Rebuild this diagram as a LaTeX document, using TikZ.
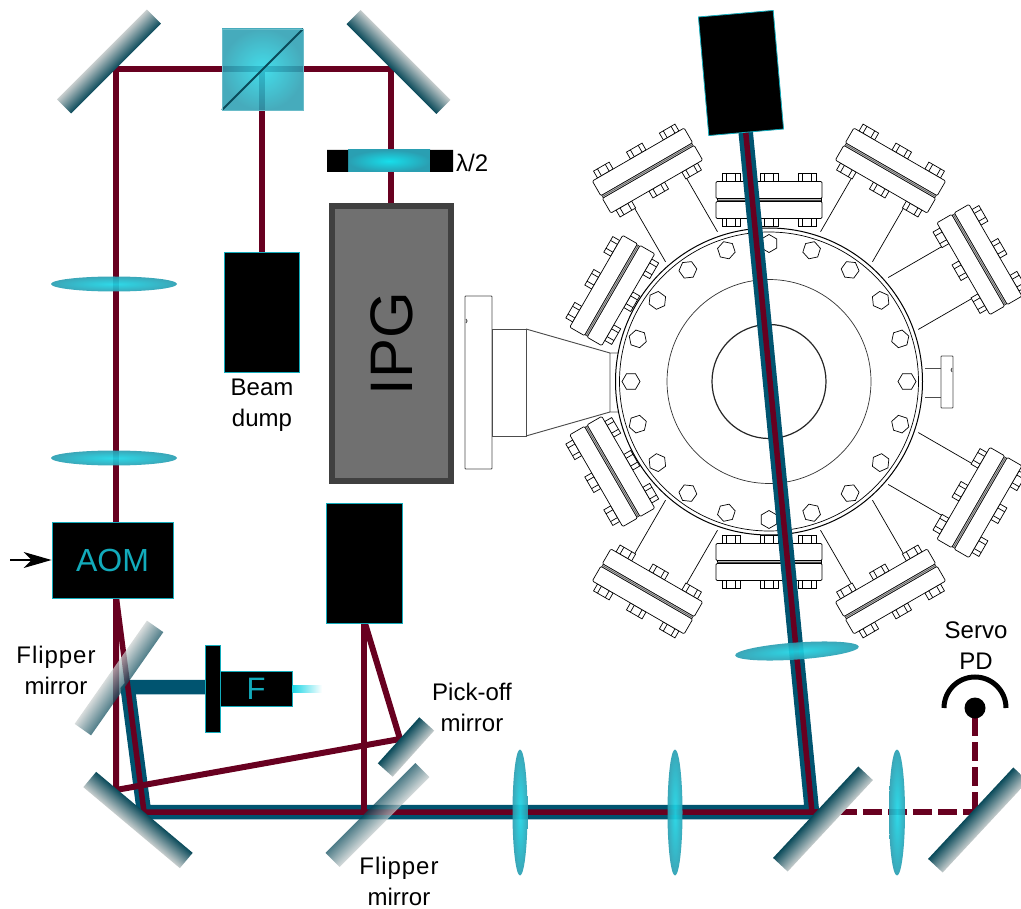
\documentclass[tikz,border=0pt]{standalone}
\usepackage{fontspec}
\setmainfont{Liberation Sans}
\usetikzlibrary{arrows.meta}
\definecolor{beamred}{HTML}{680020}
\definecolor{beamblue}{HTML}{005470}
\definecolor{mdark}{HTML}{0A4A5A}
\definecolor{mlight}{HTML}{C8CECE}
\definecolor{tealedge}{HTML}{12ABBB}
\definecolor{lensin}{HTML}{1CD6E6}
\definecolor{lensout}{HTML}{2A9FB2}
\tikzset{
  redbeam/.style={draw=beamred,line width=6pt,line join=miter},
  redthin/.style={draw=beamred,line width=5.5pt,line join=miter},
  bluebeam/.style={draw=beamblue,line width=14.5pt,line join=bevel},
  dashbeam/.style={draw=beamred,line width=6pt,dash pattern=on 19pt off 6pt},
  blackbox/.style={draw=tealedge,line width=0.8pt,fill=black,inner sep=0pt,text=tealedge},
  plainline/.style={draw=black,line width=0.7pt},
  portline/.style={draw=black!70,line width=0.9pt},
  lbl/.style={align=center,inner sep=0pt,font=\fontsize{24}{31}\selectfont},
}
% centre x, centre y, rotation, length, thickness, top colour, bottom colour, opacity
\newcommand\mirrorbar[8]{%
  \begin{scope}[transform canvas={shift={(#1,#2)},rotate=#3}]
    \shade[top color=#6,bottom color=#7,opacity=#8] ({-#4/2},{-#5/2}) rectangle ({#4/2},{#5/2});
  \end{scope}}
% centre x, centre y, rotation, rx, ry
\newcommand\lensshape[5]{%
  \begin{scope}[transform canvas={shift={(#1,#2)},rotate=#3}]
    \shade[inner color=lensin,outer color=lensout,opacity=.92] (0,0) ellipse ({#4pt} and {#5pt});
  \end{scope}}
\newcommand\boltshape[2]{% x, y of top-left
  \draw[plainline,fill=white] (#1,#2) rectangle ++(18,8);
  \draw[plainline] ({#1+4.5},#2) -- ++(0,8) ({#1+13.5},#2) -- ++(0,8);}
% rotation, radial distance of flange centre, tube end (local y)
\newcommand\flangeport[3]{%
  \begin{scope}[shift={(769,381)},rotate=#1,shift={(0,-#2)}]
    \draw[plainline] (-30,18.5) -- (-30,#3) (30,18.5) -- (30,#3);
    \foreach \bx in {-47,-9,29}{
      \boltshape{\bx}{18.5}
      \boltshape{\bx}{-26.5}
    }
    \draw[plainline,fill=white,rounded corners=1.2pt] (-53,-18.5) rectangle (53,-1.5);
    \draw[plainline,fill=white,rounded corners=1.2pt] (-53,1.5) rectangle (53,18.5);
    \draw[draw=black,line width=0.5pt,fill=black!25] (-52,-1.5) rectangle (52,1.5);
    \draw[draw=black!70,line width=0.5pt] (-52,0) -- (52,0);
  \end{scope}}
\begin{document}
\begin{tikzpicture}[x=1pt,y=-1pt]
\useasboundingbox (0,0) rectangle (1021,909);
\clip (0,0) rectangle (1021,909);

% ---------- vacuum chamber ----------
\flangeport{0}{181}{18.5}
\flangeport{180}{181}{18.5}
\flangeport{60}{181}{18.5}
\flangeport{120}{181}{18.5}
\flangeport{30}{243}{88}
\flangeport{-30}{243}{88}
\flangeport{150}{243}{88}
\flangeport{-150}{243}{88}
\flangeport{-60}{243}{88}
\flangeport{-120}{243}{88}
% left port
\draw[portline,rounded corners=0.8pt] (465,296) rectangle (492,469);
\draw[portline] (492,329) rectangle (526,436);
\draw[portline] (526,329) -- (610,353) -- (618,353) (526,436) -- (610,412) -- (618,412) (610,353) -- (610,412);
\draw[portline] (466,319) -- (467,321) -- (466,323);
% right port
\draw[portline] (925,368) -- (941,368) (925,397) -- (941,397);
\draw[portline,rounded corners=0.8pt] (941,356) rectangle (953,408);
\draw[portline] (952,368) -- (951,370) -- (952,372);
% chamber body
\fill[white] (769,381.5) circle (153pt);
\draw[draw=black,line width=1pt] (769,381.5) circle (153.5pt);
\draw[plainline] (769,381.5) circle (149.5pt);
\draw[plainline,draw=black!80] (769,381.5) circle (102pt);
\draw[draw=black!85,line width=1.2pt] (769,381.5) circle (57pt);
\foreach \ang in {0,18,...,342}{
  \begin{scope}[shift={(769,381.5)},rotate=\ang,shift={(138pt,0pt)}]
    \draw[plainline] (0:9pt) -- (60:9pt) -- (120:9pt) -- (180:9pt) -- (240:9pt) -- (300:9pt) -- cycle;
  \end{scope}
}

% ---------- beam corners ----------
\coordinate (aomtop) at (116,525);
\coordinate (mTL) at (116,69);
\coordinate (mTR) at (391,69);
\coordinate (pbsdown) at (262,69);
\coordinate (dumptop) at (262,255);
\coordinate (ipgtop) at (391,206);
\coordinate (aombot) at (116,595);
\coordinate (mBLa) at (116,790);
\coordinate (mBLb) at (144,812);
\coordinate (pick) at (400,739);
\coordinate (boxbot) at (364,620);
\coordinate (flipB) at (364,812);
\coordinate (mBR) at (812,812);
\coordinate (topbox) at (745,125);
\coordinate (fibre) at (210,687);
\coordinate (flipL) at (127.6,687);
\coordinate (mFar) at (975,812);
\coordinate (pd) at (975,708);

% ---------- beams ----------
\draw[bluebeam] (fibre) -- (flipL) -- (mBLb) -- (mBR) -- (topbox);
\draw[redbeam] (aomtop) -- (mTL) -- (mTR) -- (ipgtop);
\draw[redbeam] (pbsdown) -- (dumptop);
\draw[redbeam] (aombot) -- (mBLa) -- (pick) -- (boxbot);
\draw[redbeam] (boxbot) -- (flipB);
\draw[redthin] (aombot) -- (mBLb) -- (mBR) -- (topbox);
\draw[dashbeam,dash phase=24pt] (mBR) -- (mFar);
\draw[dashbeam,dash phase=16pt] (pd) -- (mFar);

% ---------- polarising cube ----------
\shade[inner color=lensin!95!white,outer color=lensout,opacity=.87] (222,29) rectangle (303,110);
\draw[draw=mdark,line width=1.8pt] (222,110) -- (303,29);
\draw[draw=lensout!70!white,line width=.6pt] (222,29) rectangle (303,110);

% ---------- lenses ----------
\lensshape{114}{284}{0}{63}{7.5}
\lensshape{114}{458}{0}{63}{7.5}
\lensshape{797}{651}{4}{62}{8.5}
\lensshape{520}{812.5}{0}{7.5}{63}
\lensshape{675}{812.5}{0}{7.5}{63}
\lensshape{897}{812.5}{0}{8}{63}

% ---------- mirrors ----------
\mirrorbar{109}{61.5}{45}{127}{20}{mlight}{mdark}{1}
\mirrorbar{398.5}{62}{-45}{127}{20}{mlight}{mdark}{1}
\mirrorbar{138}{820}{-40}{126}{20}{mdark}{mlight}{1}
\mirrorbar{823}{819}{47}{125}{20}{mdark}{mlight}{1}
\mirrorbar{978}{820}{47}{125}{20}{mdark}{mlight}{1}
\mirrorbar{406}{747}{48}{62}{20}{mdark}{mlight}{1}
\mirrorbar{119}{678}{55}{126}{20}{mlight}{mdark}{.72}
\mirrorbar{377.5}{815}{45}{127}{20}{mdark}{mlight}{.72}

% ---------- boxes ----------
\node[blackbox,minimum width=75pt,minimum height=120pt] (dump) at (261.5,312) {};
\node[blackbox,minimum width=121pt,minimum height=76pt,font=\fontsize{32}{32}\selectfont] (aom) at (112.5,560) {AOM};
\node[blackbox,minimum width=76pt,minimum height=120pt] (pickbox) at (364,563) {};
\node[blackbox,minimum width=75pt,minimum height=119pt,rotate=5] (probe) at (741,73) {};
\node[blackbox,minimum width=15pt,minimum height=87pt] (fplate) at (212.5,688.5) {};
\node[blackbox,minimum width=72pt,minimum height=35pt,font=\fontsize{31}{31}\selectfont] (fbody) at (256,688.5) {F};
\shade[left color=lensin,right color=white] (292.5,685.5) rectangle (322,692);

% ---------- half-wave plate ----------
\shade[inner color=lensin!80!cyan,outer color=lensout] (348,150) rectangle (430,172);
\fill[black] (327,150) rectangle (348,172) (430,150) rectangle (453,172);
\node[lbl,anchor=west] (hwp) at (456,163) {λ/2};

% ---------- laser ----------
\node[draw=black!75,line width=6pt,fill=black!56,minimum width=119pt,minimum height=275pt,inner sep=0pt,font=\fontsize{60}{60}\selectfont] (ipg) at (391.5,343.5) {\rotatebox{90}{IPG}};

% ---------- photodiode ----------
\fill[black] (pd) circle (10.5pt);
\draw[draw=black,line width=5pt] (944,708) arc[start angle=180,end angle=0,radius=31pt];

% ---------- RF arrow ----------
\coordinate (rf) at (10,560);
\draw[-{Stealth[length=28pt,width=16pt,inset=8pt]},draw=black,line width=1.4pt] (rf) -- (aom.west);

% ---------- labels ----------
\node[lbl] (l1) at (56,670) {\addfontfeature{LetterSpace=4}Flipper\\mirror};
\node[lbl] (l2) at (399,881) {\addfontfeature{LetterSpace=4}Flipper\\mirror};
\node[lbl] (l3) at (472,707) {Pick-off\\mirror};
\node[lbl] (l4) at (262,405) {Beam\\dump};
\node[lbl] (l5) at (976,646) {Servo\\PD};
\end{tikzpicture}
\end{document}
